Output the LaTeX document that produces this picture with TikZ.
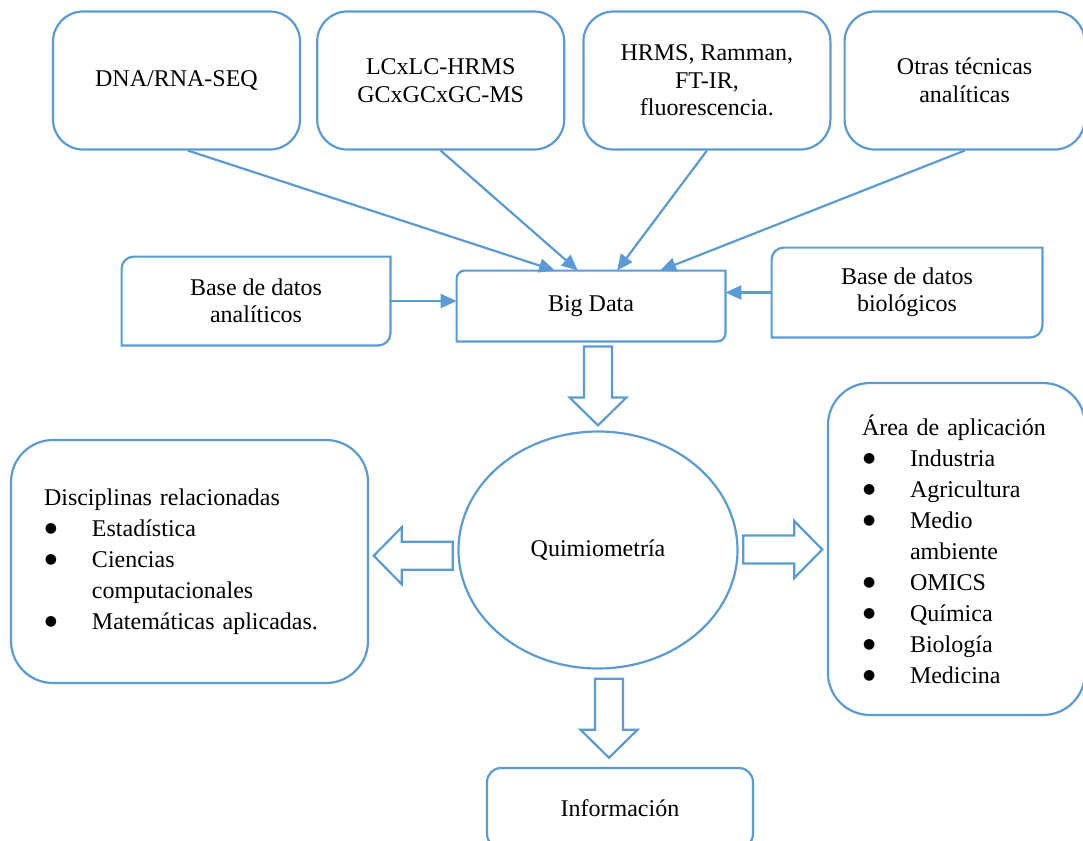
\documentclass[tikz,border=0pt]{standalone}
\usepackage{fontspec}
\setmainfont{Liberation Serif}
\newfontfamily\simbolo{DejaVu Sans}
\usetikzlibrary{arrows.meta, positioning, calc, shapes.geometric}
\definecolor{azul}{RGB}{91,155,213}
\tikzset{
  borde/.style={draw=azul, line width=1.1pt},
  caja/.style={rectangle, borde, rounded corners=15pt, align=center,
               minimum width=123.5pt, minimum height=69pt},
  base/.style={rectangle, align=center, minimum width=134pt, minimum height=44pt},
  lista/.style={rectangle, borde, rounded corners=21pt, align=left,
                font=\fontsize{12}{15.5}\selectfont},
  flecha/.style={-{Triangle[length=8pt, width=7pt]}, line width=1.1pt, draw=azul},
  gorda/.pic={\draw[borde, line join=miter] (-39.5,-14) -- (11.5,-14) -- (11.5,-28.5)
              -- (39.5,0) -- (11.5,28.5) -- (11.5,14) -- (-39.5,14) -- cycle;}
}
% vinneta de lista y caja con dos esquinas redondeadas
\newcommand\itm[1]{\hspace*{0.5pt}\makebox[23.5pt][l]{\raisebox{2pt}{\simbolo\fontsize{7}{7}\selectfont ●}}#1}
\newcommand\esquinas[2]{%
  \draw[borde] ($(#1.north west)+(0,-#2)$) arc[start angle=180, end angle=90, radius=#2]
    -- (#1.north east) -- ($(#1.south east)+(0,#2)$)
    arc[start angle=0, end angle=-90, radius=#2] -- (#1.south west) -- cycle;}

\begin{document}
\begin{tikzpicture}[x=0.5pt, y=-0.5pt, every node/.style={font=\fontsize{12}{13.75}\selectfont}]
  \useasboundingbox (0,0) rectangle (1083,841);
  \clip (0,0) rectangle (1083,841);

  % tecnicas
  \node[caja] (dna) at (176.5,80.5) {DNA/RNA-SEQ};
  \node[caja, right=7.5pt of dna] (lc) {LCxLC-HRMS\\GCxGCxGC-MS};
  \node[caja, right=8.5pt of lc] (hrms) {HRMS, Ramman,\\FT-IR,\\fluorescencia.};
  \node[caja, minimum width=120pt, right=6pt of hrms] (otras) {Otras técnicas\\analíticas};

  % big data y bases
  \node[base, minimum height=35pt] (bd) at (591,306) {Big Data};
  \node[base] (ana) at (256,301) {Base de datos\\analíticos};
  \node[base, minimum width=135pt, minimum height=44.5pt] (bio) at (907,292.5)
        {Base de datos\\biológicos};
  \esquinas{bd}{4pt}
  \esquinas{ana}{6pt}
  \esquinas{bio}{6pt}

  \draw[flecha] ([xshift=5.75pt]dna.south) -- ($(bd.north west)!0.366!(bd.north east)$);
  \draw[flecha] (lc.south) -- ($(bd.north west)!0.451!(bd.north east)$);
  \draw[flecha] (hrms.south) -- ($(bd.north west)!0.597!(bd.north east)$);
  \draw[flecha] (otras.south) -- ($(bd.north west)!0.757!(bd.north east)$);
  \draw[flecha] (ana.east) -- (ana.east -| bd.west);
  \draw[flecha] (bio.west) -- (bio.west -| bd.east);

  % quimiometria
  \node[ellipse, borde, minimum width=139.5pt, minimum height=118.5pt] (q) at (598,550)
        {Quimiometría};
  \node[lista, minimum height=121.5pt, text width=145.5pt, inner xsep=16.5pt] (disc)
        at (189.5,561.5)
        {Disciplinas relacionadas\\
         \itm{Estadística}\\
         \itm{Ciencias}\\
         \hspace*{24pt}computacionales\\
         \itm{Matemáticas aplicadas.}};
  \node[lista, minimum height=166pt, text width=94.5pt, inner xsep=17pt] (area)
        at (956.5,549)
        {Área de aplicación\\
         \itm{Industria}\\
         \itm{Agricultura}\\
         \itm{Medio}\\
         \hspace*{24pt}ambiente\\
         \itm{OMICS}\\
         \itm{Química}\\
         \itm{Biología}\\
         \itm{Medicina}};
  \node[caja, rounded corners=7pt, minimum width=133pt, minimum height=40pt] (info)
        at (620,808) {Información};

  \pic[rotate=-90] at ($(bd.south -| q.north)!0.5!(q.north)$) {gorda};
  \pic[rotate=180] at ($(disc.east)!0.5!(q.west)$) {gorda};
  \pic at ($(q.east)!0.5!(area.west)$) {gorda};
  \pic[rotate=-90] at ($(q.south)!0.5!(info.north)$) {gorda};
\end{tikzpicture}
\end{document}
